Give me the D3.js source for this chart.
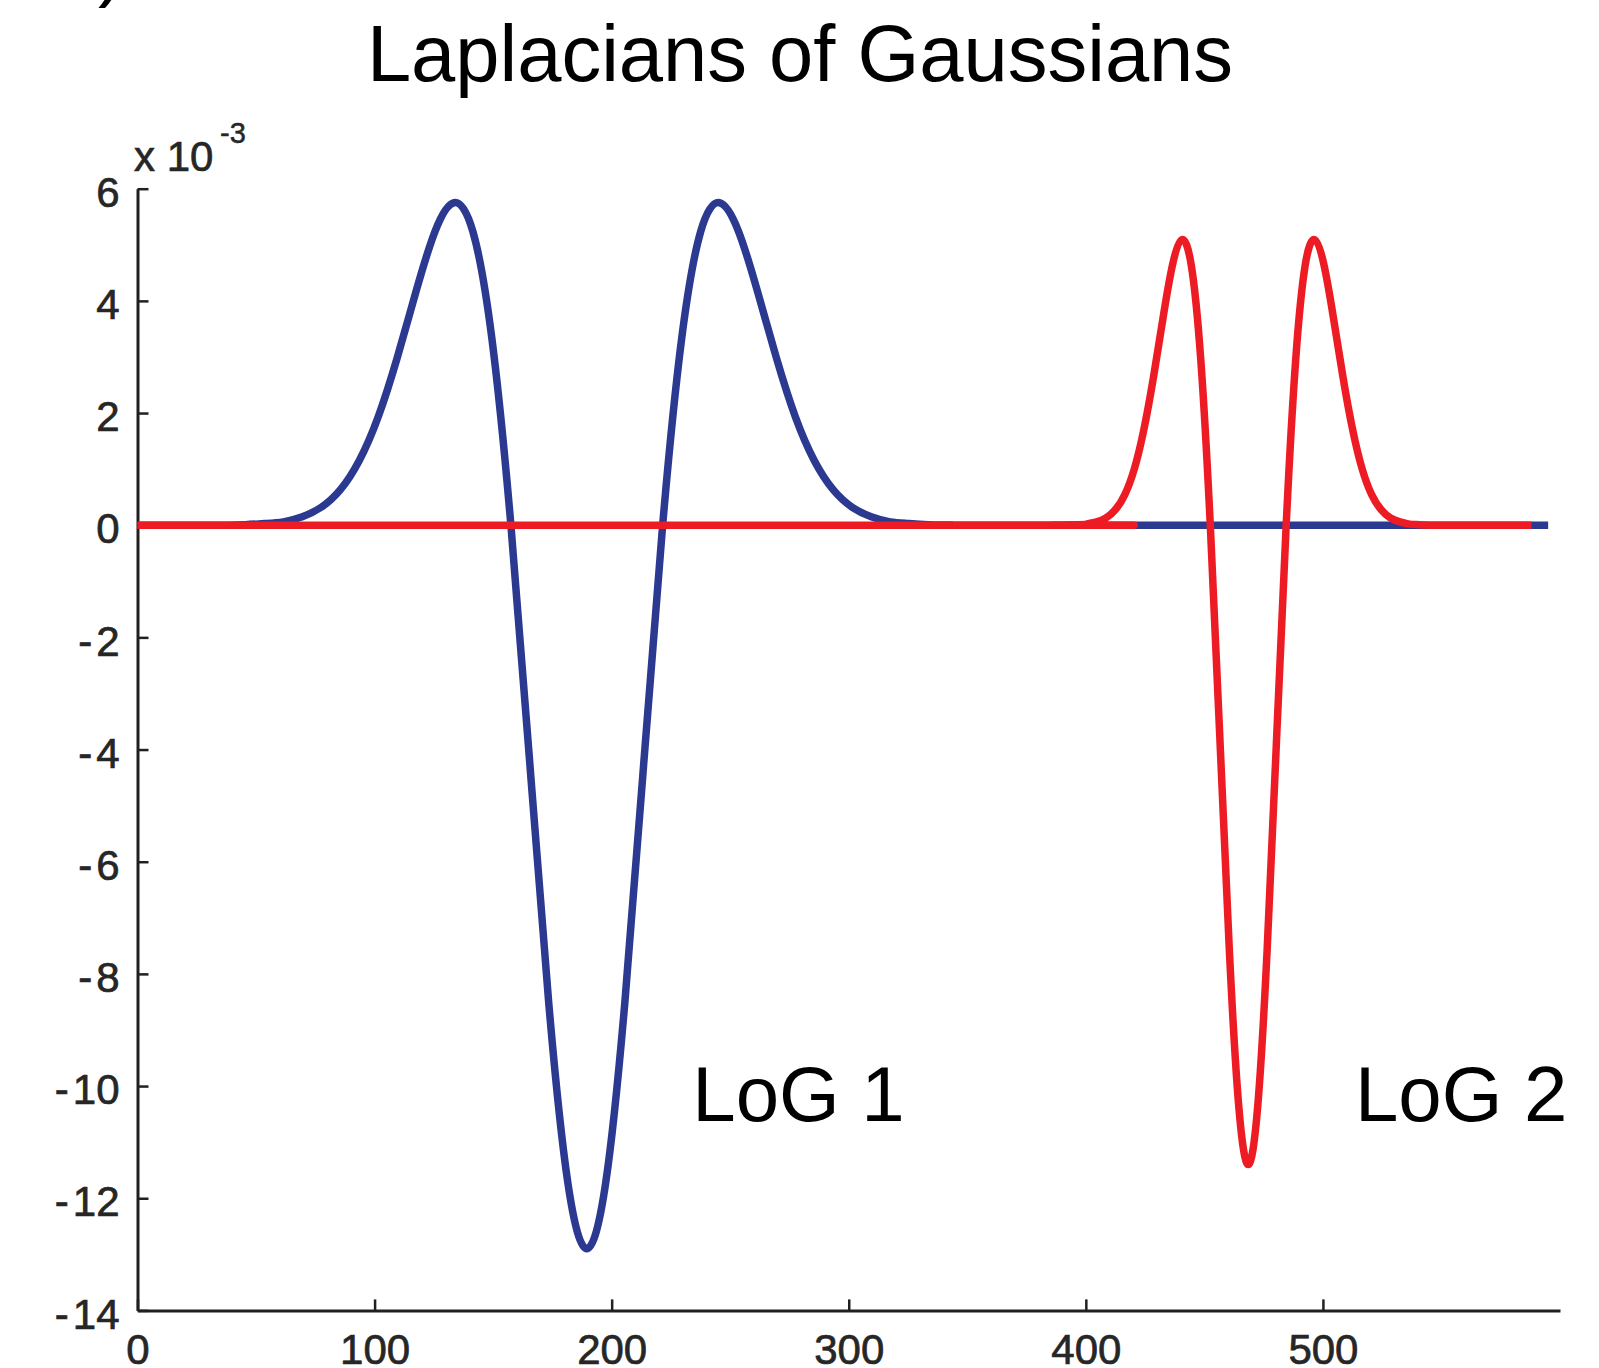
<!DOCTYPE html>
<html>
<head>
<meta charset="utf-8">
<script src="https://cdn.jsdelivr.net/npm/d3@7"></script>
<style>
  html, body { margin: 0; padding: 0; background: #fff; }
  svg { display: block; }
</style>
</head>
<body>
<div id="chart"></div>
<script>
// ---- data (values in units of 1e-3) ----
const xTicks = [0, 100, 200, 300, 400, 500];
const yTicks = [6, 4, 2, 0, -2, -4, -6, -8, -10, -12, -14];

const log1X = [0, 29.5, 37.5, 45.5, 53.5, 61.5, 69.5, 77.5, 85.5, 93.5, 101.5, 109.5, 117.5, 125.5, 133.5, 141.5,
  149.5, 157.5, 165.5, 173.5, 181.5, 189.5, 197.5, 205.5, 213.5, 221.5, 229.5, 237.5, 245.5, 253.5, 261.5,
  269.5, 277.5, 285.5, 293.5, 301.5, 309.5, 317.5, 325.5, 333.5, 341.5, 349.5, 595];
const log1Y = [0, 0.00, 0.00, 0.01, 0.03, 0.06, 0.15, 0.32, 0.63, 1.15, 1.93, 2.98, 4.17, 5.24, 5.75, 5.23,
  3.32, 0.00, -4.26, -8.54, -11.72, -12.90, -11.72, -8.54, -4.26, 0.00, 3.32,
  5.23, 5.75, 5.24, 4.17, 2.98, 1.93, 1.15, 0.63, 0.32, 0.15, 0.06, 0.03, 0.01, 0.00, 0.00, 0];

const log2X = [0, 388.5, 392.5, 396.5, 400.5, 404.5, 408.5, 412.5, 416.5, 420.5, 424.5, 428.5, 432.5, 436.5, 440.5,
  444.5, 448.5, 452.5, 456.5, 460.5, 464.5, 468.5, 472.5, 476.5, 480.5, 484.5, 488.5, 492.5, 496.5,
  500.5, 504.5, 508.5, 512.5, 516.5, 520.5, 524.5, 528.5, 532.5, 536.5, 540.5, 544.5, 548.5, 588];
const log2Y = [0, 0.00, 0.00, 0.01, 0.02, 0.06, 0.13, 0.28, 0.55, 1.01, 1.71, 2.63, 3.68, 4.63, 5.09,
  4.63, 2.94, 0.00, -3.76, -7.55, -10.36, -11.40, -10.36, -7.55, -3.76, 0.00, 2.94, 4.63, 5.09,
  4.63, 3.68, 2.63, 1.71, 1.01, 0.55, 0.28, 0.13, 0.06, 0.02, 0.01, 0.00, 0.00, 0];

const seriesNames = ["LoG 1", "LoG 2"];
const seriesColors = ["#2B3990", "#ED1C24"];
const labelX = [234, 513.5];
const labelY = [-10.63, -10.63];

// ---- layout ----
const W = 1599, H = 1368;
const svg = d3.select("#chart").append("svg").attr("width", W).attr("height", H);

const x = d3.scaleLinear().domain([0, 600]).range([137.5, 1560]);
const y = d3.scaleLinear().domain([-14, 6]).range([1310.4, 188.7]);

const font = "'Liberation Sans', Arial, Helvetica, sans-serif";
const tickColor = "#262626";

// partial panel label cut at top
svg.append("text").attr("x", 98).attr("y", -8)
  .style("font-family", font).style("font-size", "78px").attr("fill", "#000").text(")");

// title
svg.append("text").attr("x", 800).attr("y", 81).attr("text-anchor", "middle")
  .style("font-family", font).style("font-size", "79.5px").attr("fill", "#000")
  .text("Laplacians of Gaussians");

// axes
const axisColor = "#231F20";
const yAxis = d3.axisLeft(y).tickValues(yTicks).tickSizeInner(-11).tickSizeOuter(0).tickPadding(18)
  .tickFormat(d => String(d));
const xAxis = d3.axisBottom(x).tickValues(xTicks).tickSizeInner(-11).tickSizeOuter(0).tickPadding(24)
  .tickFormat(d => String(d));

const gy = svg.append("g").attr("transform", `translate(${x(0)},0)`).call(yAxis);
const gx = svg.append("g").attr("transform", `translate(0,${y(-14)})`).call(xAxis);

[gx, gy].forEach(g => {
  g.select(".domain").attr("stroke", axisColor).attr("stroke-width", 3);
  g.selectAll(".tick line").attr("stroke", axisColor).attr("stroke-width", 2.5);
  g.selectAll(".tick text").attr("fill", tickColor)
    .attr("stroke", tickColor).attr("stroke-width", 0.7)
    .style("font-family", font).style("font-size", "42px");
});
gy.selectAll(".tick text").attr("dy", "0.42em");
// negative labels: dash followed by a small gap before the digits
gy.selectAll(".tick text").each(function(d) {
  if (d < 0) {
    const t = d3.select(this);
    t.text(null);
    t.append("tspan").text("-");
    t.append("tspan").attr("dx", 4).text(String(Math.abs(d)));
  }
});

// exponent label
svg.append("text").attr("x", 134).attr("y", 171)
  .style("font-family", font).style("font-size", "42px").attr("fill", tickColor)
  .attr("stroke", tickColor).attr("stroke-width", 0.7).text("x 10");
svg.append("text").attr("x", 220).attr("y", 143)
  .style("font-family", font).style("font-size", "29px").attr("fill", tickColor)
  .attr("stroke", tickColor).attr("stroke-width", 0.5).text("-3");

// lines
const line = d3.line().x(d => x(d[0])).y(d => y(d[1])).curve(d3.curveNatural);
const series = [d3.zip(log1X, log1Y), d3.zip(log2X, log2Y)];
series.forEach((s, i) => {
  svg.append("path").datum(s).attr("d", line)
    .attr("fill", "none").attr("stroke", seriesColors[i]).attr("stroke-width", 7.5)
    .attr("stroke-linejoin", "round").attr("stroke-linecap", "butt");
});

// annotations
seriesNames.forEach((n, i) => {
  svg.append("text").attr("x", x(labelX[i])).attr("y", y(labelY[i]))
    .style("font-family", font).style("font-size", "78px").attr("fill", "#000").text(n);
});
</script>
</body>
</html>
